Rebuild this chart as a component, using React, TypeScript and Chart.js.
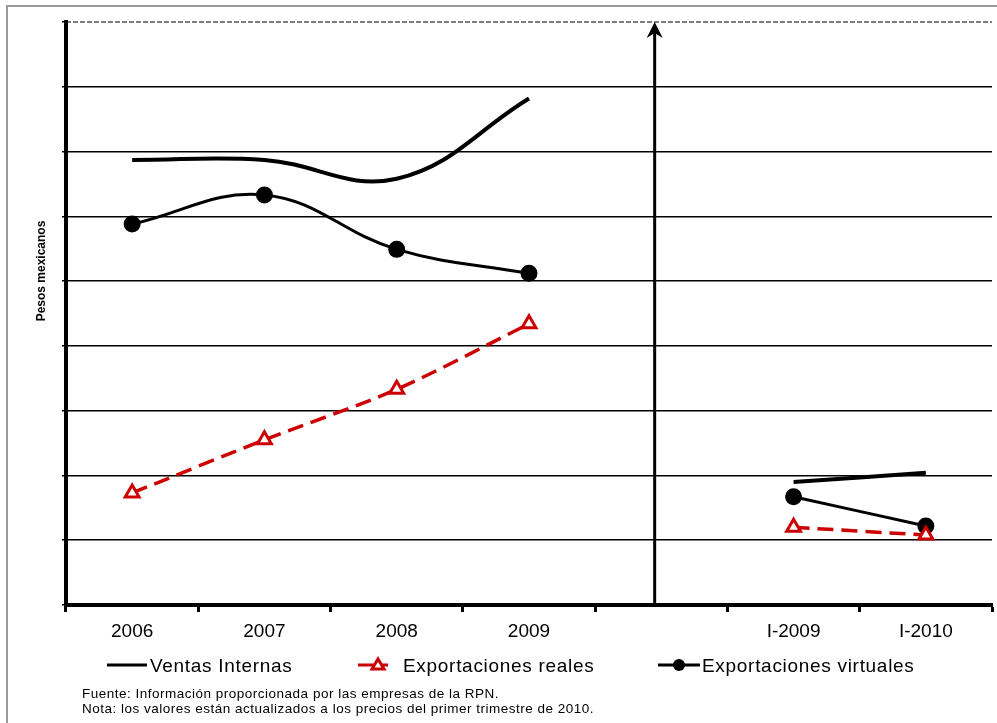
import React, { useEffect, useRef } from "react";
import { Chart, registerables } from "chart.js";

Chart.register(...registerables);

const categories = ["2006", "2007", "2008", "2009", "", "I-2009", "I-2010"];
const ventasInternas = [6.87, 6.87, 6.58, 7.82, null, 1.9, 2.04];
const exportacionesReales = [1.73, 2.55, 3.33, 4.34, null, 1.2, 1.08];
const exportacionesVirtuales = [5.88, 6.33, 5.49, 5.12, null, 1.67, 1.22];
const yTitle = "Pesos mexicanos";
const footnotes = [
  "Fuente: Información proporcionada por las empresas de la RPN.",
  "Nota: los valores están actualizados a los precios del primer trimestre de 2010.",
];

const FONT = "'Liberation Sans', Arial, sans-serif";
const RED = "#cc0000";

const decorPlugin = {
  id: "decor",
  beforeDraw(chart: any) {
    const ctx = chart.ctx;
    ctx.save();
    ctx.fillStyle = "#fff";
    ctx.fillRect(0, 0, chart.width, chart.height);
    ctx.restore();
  },
  afterDraw(chart: any) {
    const ctx = chart.ctx;
    const { chartArea } = chart;
    const x = chart.scales.x;
    ctx.save();
    // outer frame
    ctx.strokeStyle = "#999";
    ctx.lineWidth = 2;
    ctx.beginPath();
    ctx.moveTo(7, chart.height);
    ctx.lineTo(7, 6);
    ctx.lineTo(chart.width, 6);
    ctx.stroke();

    // top dashed gridline
    ctx.strokeStyle = "#000";
    ctx.lineWidth = 1.2;
    ctx.setLineDash([5, 2]);
    ctx.beginPath();
    ctx.moveTo(chartArea.left, chartArea.top);
    ctx.lineTo(chartArea.right, chartArea.top);
    ctx.stroke();
    ctx.setLineDash([]);

    // vertical arrow separator
    const ax = x.getPixelForValue(3.95);
    ctx.lineWidth = 3;
    ctx.beginPath();
    ctx.moveTo(ax, chartArea.bottom);
    ctx.lineTo(ax, chartArea.top + 10);
    ctx.stroke();
    ctx.fillStyle = "#000";
    ctx.beginPath();
    ctx.moveTo(ax, chartArea.top);
    ctx.lineTo(ax - 8, chartArea.top + 16);
    ctx.lineTo(ax, chartArea.top + 11);
    ctx.lineTo(ax + 8, chartArea.top + 16);
    ctx.closePath();
    ctx.fill();

    // y title
    ctx.save();
    ctx.translate(42, 271);
    ctx.rotate(-Math.PI / 2);
    ctx.font = `bold 12px ${FONT}`;
    ctx.textAlign = "center";
    ctx.textBaseline = "middle";
    ctx.fillStyle = "#000";
    ctx.fillText(yTitle, 0, 0);
    ctx.restore();

    // legend
    const ly = 665;
    const ty = 667;
    const ds = chart.data.datasets;
    ctx.font = `19px ${FONT}`;
    (ctx as any).letterSpacing = "0.7px";
    ctx.textBaseline = "middle";
    ctx.textAlign = "left";
    ctx.fillStyle = "#000";
    // item 1
    ctx.strokeStyle = ds[0].borderColor;
    ctx.lineWidth = 3;
    ctx.beginPath();
    ctx.moveTo(107, ly);
    ctx.lineTo(147, ly);
    ctx.stroke();
    ctx.fillText(ds[0].label, 150, ty);
    // item 2
    ctx.strokeStyle = ds[1].borderColor;
    ctx.lineWidth = 3;
    ctx.beginPath();
    ctx.moveTo(358, ly);
    ctx.lineTo(388, ly);
    ctx.stroke();
    ctx.fillStyle = "#fff";
    ctx.lineWidth = 3;
    ctx.beginPath();
    ctx.moveTo(378, ly - 6);
    ctx.lineTo(384, ly + 4);
    ctx.lineTo(372, ly + 4);
    ctx.closePath();
    ctx.fill();
    ctx.stroke();
    ctx.fillStyle = "#000";
    ctx.fillText(ds[1].label, 403, ty);
    // item 3
    ctx.strokeStyle = ds[2].borderColor;
    ctx.lineWidth = 3;
    ctx.beginPath();
    ctx.moveTo(658, ly);
    ctx.lineTo(700, ly);
    ctx.stroke();
    ctx.beginPath();
    ctx.arc(679, ly, 6, 0, Math.PI * 2);
    ctx.fillStyle = "#000";
    ctx.fill();
    ctx.fillText(ds[2].label, 702, ty);

    // footnotes
    ctx.font = `13.5px ${FONT}`;
    (ctx as any).letterSpacing = "0.5px";
    ctx.fillText(footnotes[0], 82, 694);
    ctx.fillText(footnotes[1], 82, 709);
    ctx.restore();
  },
};

export default function App() {
  const ref = useRef<HTMLCanvasElement>(null);
  useEffect(() => {
    document.body.style.margin = "0";
    const chart = new Chart(ref.current as HTMLCanvasElement, {
      type: "line",
      data: {
        labels: categories,
        datasets: [
          {
            label: "Ventas Internas",
            data: ventasInternas,
            borderColor: "#000",
            borderWidth: 4,
            pointRadius: 0,
            tension: 0.4,
            spanGaps: false,
          },
          {
            label: "Exportaciones reales",
            data: exportacionesReales,
            borderColor: RED,
            borderWidth: 3.5,
            borderDash: [16, 8],
            pointStyle: "triangle",
            pointRadius: 8,
            pointBorderWidth: 3,
            pointBackgroundColor: "#fff",
            pointBorderColor: RED,
            tension: 0.3,
            spanGaps: false,
          },
          {
            label: "Exportaciones virtuales",
            data: exportacionesVirtuales,
            borderColor: "#000",
            borderWidth: 3,
            pointStyle: "circle",
            pointRadius: 7,
            pointBackgroundColor: "#000",
            pointBorderColor: "#000",
            tension: 0.4,
            spanGaps: false,
          },
        ],
      },
      options: {
        animation: false,
        responsive: false,
        devicePixelRatio: 1,
        layout: { autoPadding: false, padding: { top: 22, right: 5, left: 0, bottom: 0 } },
        plugins: {
          legend: { display: false },
          tooltip: { enabled: false },
        },
        scales: {
          x: {
            offset: true,
            grid: {
              offset: true,
              drawOnChartArea: false,
              drawTicks: true,
              tickLength: 7,
              tickWidth: 3,
              tickColor: "#000",
            },
            border: { color: "#000", width: 4 },
            ticks: {
              color: "#000",
              font: { family: FONT, size: 19 },
              padding: 8,
              maxRotation: 0,
              autoSkip: false,
            },
            afterFit(scale: any) {
              scale.height = 118;
              scale.paddingRight = 0;
              scale.paddingLeft = 0;
            },
          },
          y: {
            min: 0,
            max: 9,
            ticks: { stepSize: 1, display: false },
            grid: {
              color: (c: any) => (c.tick && c.tick.value === 9 ? "rgba(0,0,0,0)" : "#000"),
              lineWidth: 1.5,
              drawTicks: true,
              tickLength: 4,
              tickColor: "#000",
            },
            border: { color: "#000", width: 4 },
            afterFit(scale: any) {
              scale.width = 66;
              scale.paddingTop = 0;
              scale.paddingBottom = 0;
            },
          },
        },
      },
      plugins: [decorPlugin],
    } as any);
    return () => chart.destroy();
  }, []);
  return (
    <div style={{ width: 997, height: 723 }}>
      <canvas ref={ref} width={997} height={723} />
    </div>
  );
}
